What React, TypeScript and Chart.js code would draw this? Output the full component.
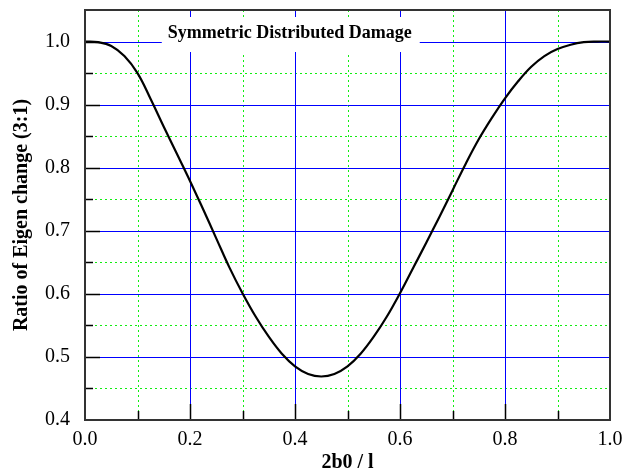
import React, { useEffect, useRef } from 'react';
import { Chart, registerables } from 'chart.js';

Chart.register(...registerables);

// ---- Data ----
const xValues = [
  0, 0.025, 0.05, 0.075, 0.1, 0.125, 0.15, 0.175, 0.2, 0.225,
  0.25, 0.275, 0.3, 0.325, 0.35, 0.375, 0.4, 0.425, 0.45, 0.475,
  0.5, 0.525, 0.55, 0.575, 0.6, 0.625, 0.65, 0.675, 0.7, 0.725,
  0.75, 0.775, 0.8, 0.825, 0.85, 0.875, 0.9, 0.925, 0.95, 0.975, 1.0,
];
const ratioValues = [
  1.0, 0.999, 0.993, 0.977, 0.95, 0.909, 0.865, 0.822, 0.779, 0.734,
  0.688, 0.642, 0.601, 0.564, 0.532, 0.505, 0.485, 0.473, 0.469, 0.473,
  0.485, 0.505, 0.532, 0.564, 0.601, 0.641, 0.681, 0.722, 0.764, 0.806,
  0.845, 0.879, 0.91, 0.937, 0.96, 0.977, 0.988, 0.995, 0.999, 1.0, 1.0,
];

const chartTitle = 'Symmetric Distributed Damage';
const xAxisTitle = '2b0 / l';
const yAxisTitle = 'Ratio of Eigen change (3:1)';

const xMin = 0;
const xMax = 1.0;
const yMin = 0.4;
const yMax = 1.05;
const xLabelStep = 0.2;
const yLabelStep = 0.1;

const xMajorGrid = [0.2, 0.4, 0.6, 0.8];
const xMinorGrid = [0.1, 0.3, 0.5, 0.7, 0.9];
const yMajorGrid = [0.5, 0.6, 0.7, 0.8, 0.9, 1.0];
const yMinorGrid = [0.45, 0.55, 0.65, 0.75, 0.85, 0.95];
const xMajorTicks = [0.2, 0.4, 0.6, 0.8];
const xMinorTicks = [0.1, 0.3, 0.5, 0.7, 0.9];
const yMajorTicks = [0.5, 0.6, 0.7, 0.8, 0.9, 1.0];
const yMinorTicks = [0.45, 0.55, 0.65, 0.75, 0.85, 0.95];

const SERIF = '"Liberation Serif", "Times New Roman", serif';

const gridPlugin = {
  id: 'customGrid',
  beforeDatasetsDraw(chart: any) {
    const { ctx, chartArea: a, scales } = chart;
    const x = scales.x;
    const y = scales.y;
    const px = (v: number) => Math.round(x.getPixelForValue(v)) + 0.5;
    const py = (v: number) => Math.round(y.getPixelForValue(v)) + 0.5;
    ctx.save();
    ctx.lineWidth = 1;
    // minor dotted green grid
    ctx.strokeStyle = '#11ee11';
    ctx.setLineDash([2, 3]);
    ctx.beginPath();
    xMinorGrid.forEach((v) => {
      ctx.moveTo(px(v), a.top);
      ctx.lineTo(px(v), a.bottom);
    });
    yMinorGrid.forEach((v) => {
      ctx.moveTo(a.left, py(v));
      ctx.lineTo(a.right, py(v));
    });
    ctx.stroke();
    // major blue grid
    ctx.setLineDash([]);
    ctx.strokeStyle = '#0000ff';
    ctx.beginPath();
    xMajorGrid.forEach((v) => {
      ctx.moveTo(px(v), a.top);
      ctx.lineTo(px(v), a.bottom);
    });
    yMajorGrid.forEach((v) => {
      ctx.moveTo(a.left, py(v));
      ctx.lineTo(a.right, py(v));
    });
    ctx.stroke();
    // title box inside plot
    ctx.font = 'bold 18px ' + SERIF;
    const w = ctx.measureText(chartTitle).width;
    const cx = a.left + 0.39 * (a.right - a.left);
    const cy = a.top + 23;
    ctx.fillStyle = '#ffffff';
    ctx.fillRect(cx - w / 2 - 6, a.top + 7, w + 14, 35);
    ctx.fillStyle = '#000000';
    ctx.textAlign = 'center';
    ctx.textBaseline = 'middle';
    ctx.fillText(chartTitle, cx, cy);
    ctx.restore();
  },
  afterDatasetsDraw(chart: any) {
    const { ctx, chartArea: a, scales } = chart;
    const x = scales.x;
    const y = scales.y;
    const px = (v: number) => Math.round(x.getPixelForValue(v)) + 0.5;
    const py = (v: number) => Math.round(y.getPixelForValue(v)) + 0.5;
    ctx.save();
    ctx.strokeStyle = '#000000';
    ctx.lineWidth = 1.5;
    ctx.beginPath();
    xMajorTicks.forEach((v) => {
      ctx.moveTo(px(v), a.bottom);
      ctx.lineTo(px(v), a.bottom - 16);
    });
    xMinorTicks.forEach((v) => {
      ctx.moveTo(px(v), a.bottom);
      ctx.lineTo(px(v), a.bottom - 9);
    });
    yMajorTicks.forEach((v) => {
      ctx.moveTo(a.left, py(v));
      ctx.lineTo(a.left + 15, py(v));
    });
    yMinorTicks.forEach((v) => {
      ctx.moveTo(a.left, py(v));
      ctx.lineTo(a.left + 8, py(v));
    });
    ctx.stroke();
    // frame
    ctx.lineWidth = 2;
    ctx.strokeStyle = '#333333';
    ctx.strokeRect(a.left, a.top, a.right - a.left, a.bottom - a.top);
    ctx.restore();
  },
};

export default function App() {
  const canvasRef = useRef<HTMLCanvasElement | null>(null);

  useEffect(() => {
    const canvas = canvasRef.current;
    if (!canvas) return;
    const points = xValues.map((xv, i) => ({ x: xv, y: ratioValues[i] }));
    const chart = new Chart(canvas, {
      type: 'line',
      data: {
        datasets: [
          {
            data: points,
            borderColor: '#000000',
            borderWidth: 2.2,
            pointRadius: 0,
            fill: false,
            tension: 0.4,
          },
        ],
      },
      options: {
        animation: false,
        responsive: false,
        maintainAspectRatio: false,
        layout: { padding: { left: 0, top: 10, right: 13, bottom: 0 } },
        plugins: {
          legend: { display: false },
          tooltip: { enabled: false },
          title: { display: false },
        },
        scales: {
          x: {
            type: 'linear',
            min: xMin,
            max: xMax,
            grid: { display: false, drawTicks: false },
            border: { display: false },
            ticks: {
              stepSize: xLabelStep,
              color: '#000',
              font: { family: SERIF, size: 20 },
              padding: 8,
              maxRotation: 0,
              autoSkip: false,
              callback: (v: any) => Number(v).toFixed(1),
            },
            title: {
              display: true,
              text: xAxisTitle,
              color: '#000',
              font: { family: SERIF, size: 20, weight: 'bold', lineHeight: 1 },
              padding: { top: 0, bottom: 0 },
            },
            afterFit: (scale: any) => {
              scale.height = 53;
              scale.paddingLeft = 0;
              scale.paddingRight = 0;
            },
          },
          y: {
            type: 'linear',
            min: yMin,
            max: yMax,
            grid: { display: false, drawTicks: false },
            border: { display: false },
            ticks: {
              stepSize: yLabelStep,
              includeBounds: false,
              color: '#000',
              font: { family: SERIF, size: 20 },
              padding: 15,
              callback: (v: any) => Number(v).toFixed(1),
            },
            title: {
              display: true,
              text: yAxisTitle,
              color: '#000',
              font: { family: SERIF, size: 20, weight: 'bold', lineHeight: 1 },
              padding: { top: 12, bottom: 0 },
            },
            afterFit: (scale: any) => {
              scale.width = 85;
              scale.paddingTop = 0;
              scale.paddingBottom = 0;
            },
          },
        },
      },
      plugins: [gridPlugin],
    });
    return () => chart.destroy();
  }, []);

  return (
    <div style={{ position: 'fixed', left: 0, top: 0, width: 623, height: 473, background: '#fff' }}>
      <canvas ref={canvasRef} width={623} height={473} style={{ display: 'block', width: 623, height: 473 }} />
    </div>
  );
}
